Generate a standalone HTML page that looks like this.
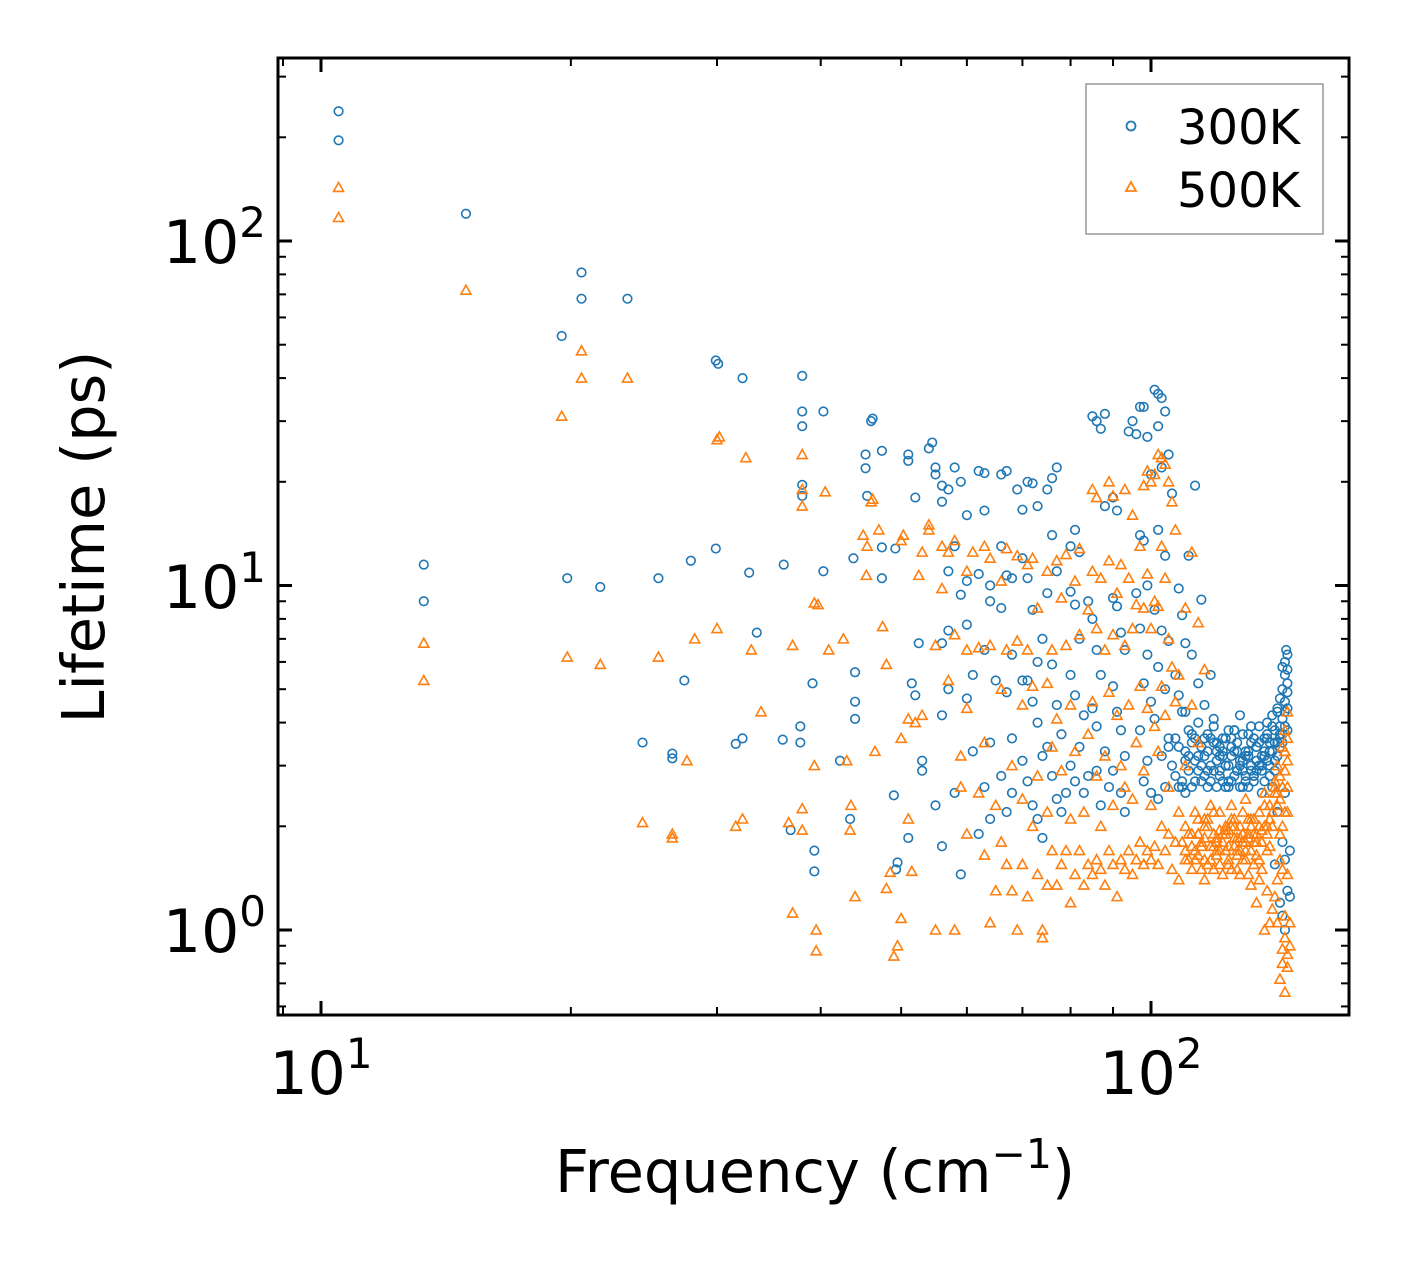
<!DOCTYPE html>
<html><head><meta charset="utf-8"><style>
body{margin:0;background:#fff}
svg{display:block;font-family:"DejaVu Sans","Liberation Sans",sans-serif}
</style></head><body>
<svg id="chart" width="1408" height="1265" xmlns="http://www.w3.org/2000/svg">
<rect width="1408" height="1265" fill="#fff"/>
<g id="marks"></g>
<g id="axes"></g>
<rect x="278" y="58" width="1071" height="957" fill="none" stroke="#000" stroke-width="3"/>
<text x="321" y="1094" font-size="60" text-anchor="middle">10<tspan font-size="42" dy="-26">1</tspan></text>
<text x="1151" y="1094" font-size="60" text-anchor="middle">10<tspan font-size="42" dy="-26">2</tspan></text>
<text x="266" y="263" font-size="60" text-anchor="end">10<tspan font-size="42" dy="-26">2</tspan></text>
<text x="266" y="608" font-size="60" text-anchor="end">10<tspan font-size="42" dy="-26">1</tspan></text>
<text x="266" y="952" font-size="60" text-anchor="end">10<tspan font-size="42" dy="-26">0</tspan></text>
<text x="815" y="1192" font-size="59" text-anchor="middle">Frequency (cm<tspan font-size="41" dy="-24">−1</tspan><tspan dy="24">)</tspan></text>
<text transform="translate(104,537) rotate(-90)" font-size="59" text-anchor="middle">Lifetime (ps)</text>
<g>
<rect x="1086" y="84" width="237" height="150" fill="#fff" stroke="#999" stroke-width="1.5"/>
<circle cx="1131" cy="126" r="4.5" fill="none" stroke="#1f77b4" stroke-width="1.8"/>
<text x="1177" y="144" font-size="48">300K</text>
<polygon points="1131,182 1136,191 1126,191" fill="none" stroke="#ff7f0e" stroke-width="1.8"/>
<text x="1177" y="207" font-size="48">500K</text>
</g>
</svg>
<script>
const blueFreq=[10.5,10.5,14.95,20.6,20.6,23.4,19.5,29.9,30.1,32.2,38,38,38,38,38,40.3,13.3,13.3,19.8,21.7,25.5,27.9,29.9,32.8,33.5,36.1,40.3,27.4,24.4,26.5,26.5,31.6,32.2,36,37.8,37.8,36.8,39.1,39.3,39.3,42.2,43.4,44,44,44,43.8,45.3,45.3,46,46.2,45.5,47.4,47.4,47.4,49.2,49,49.5,49.3,
51,51,52,51.5,52,52.5,51,53,53,54,54.5,55,55,56,56,57,58,58,57,56,57,56,57,55,56,58,59,60,60,59,60,61,60,61,59,62,63,63,62,64,64,63,65,64,63,64,62,66,67,66,67,68,66,68,67,68,66,67,68,69,70,71,72,73,70,71,72,73,70,71,72,73,74,70,71,72,73,74,75,76,77,76,77,75,74,76,77,78,75,76,77,78,79,80,81,82,80,81,82,80,81,83,82,80,81,83,84,85,86,87,88,84,85,86,87,85,86,88,86,87,89,88,90,91,90,91,92,93,90,91,92,93,90,92,93,94,95,96,97,98,99,100,97,98,99,96,97,99,98,100,97,99,98,100,101,102,103,104,102,103,105,102,104,101,103,105,102,104,101,105,103,102,104,106,108,109,110,107,108,110,111,113,112,115,114,116,118,117,119,
106,107,108,109,110,111,112,113,114,115,116,117,118,119,120,121,122,123,124,125,126,127,128,129,130,131,132,133,134,135,136,137,138,139,140,141,142,143,144,145,145,145.5,146,144,143,142,141,140,139,138,137,136,135,134,133,132,131,130,129,128,127,126,125,124,123,122,121,120,119,118,117,116,115,114,113,112,111,110,109,108,146,146,145,144,145,146,147,147,143,144,145,142,141,
121,123,125,127,129,131,133,135,137,139,141,143,120,122,124,126,128,130,132,134,136,138,140,142,144,145,146,146,145,144,143,
118,120,122,124,126,128,130,132,134,136,138,140,142,144,119,121,123,125,127,129,131,133,135,137,139,141,143,145,110,112,114,116,105,107,109,111,113,115,117,146];
const blueLife=[238,196,120,81,68,68,53,45,44,40,40.6,32,29,19.6,18.2,32,11.5,9.0,10.5,9.9,10.5,11.8,12.8,10.9,7.3,11.5,11.0,5.3,3.5,3.25,3.15,3.47,3.6,3.57,3.9,3.5,1.95,5.2,1.7,1.48,3.1,2.1,4.6,4.1,5.6,12,21.9,24,30,30.5,18.2,24.6,12.9,10.5,12.8,2.46,1.57,1.5,
24,23,18,5.2,4.8,6.8,1.85,2.9,3.1,25,26,21,22,19.5,17.5,19,22,13,11,6.8,7.4,4.2,5.0,2.3,1.75,2.5,20,16,10.3,9.4,7.7,5.5,4.7,3.3,1.45,21.5,21.2,16.5,10.8,10,9,6.5,5.3,3.5,2.6,2.1,1.9,21,21.5,13,10.7,10.5,8.6,6.3,4.9,3.6,2.8,2.2,2.5,19,16.6,20,19.8,17,12,10.5,8.5,6,5.3,5.3,4.6,4,3.2,3.1,2.7,2.3,2.1,1.85,19,20.5,22,14,11,9.5,7,5.9,4.5,3.7,3.4,2.8,2.4,2.2,2.5,13,14.5,12.5,9.6,8.8,7,5.5,4.8,4.2,3.4,3,2.7,2.5,2.8,31,30,28.5,31.5,9,8,6.5,5.5,4.4,3.9,3.3,2.9,2.3,2.6,17,18,16.5,9.2,8.7,7.3,6.5,5.1,4.3,3.8,3.2,2.9,2.5,2.2,28,30,27.5,33,33,27,21,14,13.5,10,9.5,7.5,6.3,5.2,4.6,3.8,3.1,2.7,2.5,37,36,35,32,29,22,24,14.5,12.2,8.5,7.4,6.9,5.8,5.0,4.1,3.6,3.2,2.4,2.6,18.5,9.8,8.2,6.8,5.5,4.8,4.3,12.2,19.5,6.3,9.1,5.2,4.5,5.5,3.7,4.1,
3.0,2.8,3.4,2.6,3.1,2.9,3.5,2.7,3.2,3.0,2.8,3.3,3.6,2.9,3.1,3.4,2.7,3.0,3.8,3.2,2.8,3.5,3.1,2.9,3.3,3.7,3.0,2.8,3.4,3.9,3.2,3.6,4.0,3.3,4.2,3.8,4.4,4.7,5.0,5.5,6.0,6.5,6.3,4.1,3.6,3.2,2.9,2.6,2.8,3.1,2.7,2.5,3.5,2.9,3.6,3.9,2.6,2.8,3.7,4.2,2.9,3.3,2.7,3.0,3.6,3.3,2.8,2.6,3.5,3.0,2.6,3.6,2.7,4.0,3.1,2.6,3.8,2.5,4.3,2.6,4.9,3.8,2.5,1.8,1.6,1.3,1.7,1.25,1.2,1.1,1.0,2.2,1.55,
3.2,3.0,3.4,2.9,3.1,3.3,2.8,3.0,3.2,3.5,3.1,3.4,3.3,3.6,2.7,3.8,2.6,3.2,2.9,3.4,3.0,3.7,3.9,4.3,5.8,4.6,5.2,4.4,3.9,3.5,3.7,
2.7,3.5,3.2,2.6,3.8,3.0,2.7,3.5,3.1,2.9,3.6,3.3,3.5,3.7,3.9,2.9,2.6,3.6,3.3,2.6,3.2,2.7,3.0,3.3,3.0,3.5,3.9,4.3,3.3,3.7,2.9,3.2,3.4,3.6,2.7,3.2,3.6,3.4,2.9,5.7];
const orangeFreq=[10.5,10.5,14.95,19.5,20.6,20.6,23.4,30,30.2,32.5,38,38,38,40.5,39.3,39.7,13.3,13.3,19.8,21.7,25.5,28.2,30,33,33.9,37,40.9,24.4,26.5,26.5,27.6,31.6,32.2,36.6,38,38,39.3,37,39.5,39.5,42.6,43,43.5,43.4,44,45,45.4,45.5,46,46.2,46.5,47,47.5,48,48,48.5,49,49.5,50,50.3,50,51,51,50,51.5,52,52.5,53,53,54,54,55,55,56,56,57,57,58,58,58,59,59,60,60,60,60,61,62,62,63,63,63,64,64,64,65,65,66,66,66,67,67,67,68,68,69,69,69,70,70,70,71,71,71,72,72,72,73,73,73,74,74,75,75,75,75,76,76,76,77,77,77,78,78,78,79,79,79,80,80,80,81,81,81,82,82,82,83,83,84,84,84,85,85,85,85,86,86,86,86,87,87,87,88,88,88,89,89,89,89,90,90,90,90,91,91,91,92,92,92,93,93,93,93,94,94,94,95,95,95,95,96,96,96,97,97,97,98,98,98,98,99,99,99,99,100,100,100,100,101,101,101,101,102,102,102,102,103,103,103,103,104,104,104,104,105,105,105,105,106,106,106,107,107,107,108,108,108,110,110,110,112,112,112,114,114,114,116,116,116,
109,110,111,112,113,114,115,116,117,118,119,120,121,122,123,124,125,126,127,128,129,130,131,132,133,134,135,136,137,138,139,140,141,142,143,144,145,145,146,146,144,143,142,141,140,139,138,137,136,135,134,133,132,131,130,129,128,127,126,125,124,123,122,121,120,119,118,117,116,115,114,113,145,145,146,146,147,144,143,145,147,146,144,142,
120,122,124,126,128,130,132,134,136,138,140,142,144,121,125,129,133,137,141,145,146,143,139,135,131,127,123,119,
110,112,114,116,118,120,122,124,126,128,130,132,134,136,138,140,142,144,111,113,115,117,119,121,123,125,127,129,131,133,135,137,139,141,143,145,146,145,144,146];
const orangeLife=[143,117,72,31,48,40,40,26.5,27,23.5,24,19,17,18.7,8.9,8.8,6.8,5.3,6.2,5.9,6.2,7.0,7.5,6.5,4.3,6.7,6.5,2.05,1.9,1.85,3.1,2.0,2.1,2.05,2.25,1.95,3.0,1.12,1.0,0.87,7,3.1,2.3,1.95,1.25,14,10.7,13,17.5,17.8,3.3,14.5,7.6,5.9,1.32,1.47,0.84,0.9,13.5,14,3.6,4.1,2.1,1.08,1.48,4.0,10.7,12.5,4.2,14.5,15,6.7,1.0,13,9.8,12.5,5.3,13.5,7.2,1.0,2.6,3.2,11,6.5,4.4,1.9,12.5,6.6,2.5,13,3.5,1.65,12,6.7,1.05,2.3,1.3,10.3,5,1.8,12.8,6.5,1.55,3.0,1.3,12.2,6.9,1.0,4.5,2.4,1.55,11.5,6.5,1.25,12,5.1,2.0,8.6,2.8,1.45,1.0,0.95,11,5.2,2.2,1.35,6.5,3.4,1.7,11.8,4.1,1.35,9.2,2.9,1.55,12.3,6.7,1.7,4.5,2.1,1.2,10.3,3.3,1.45,12.8,7.2,1.7,2.2,1.35,8.5,3.7,1.55,19,11,4.6,1.45,18,7.5,2.8,1.6,10.5,2.0,1.5,6.5,3.2,1.35,20,11.8,4.9,1.7,18.2,7.2,2.3,1.55,9.5,4.2,1.25,11.5,3.0,1.6,19,6.7,2.6,1.5,10.5,4.5,1.7,16,7.5,2.4,1.45,8.8,3.5,1.6,13,5.1,1.8,19.5,8.6,2.9,1.55,21.5,10.8,4.4,1.7,20,7.5,2.3,1.6,21,9,3.9,1.75,24,8.7,3.3,1.55,23.5,13,5.1,2.0,22.5,10.5,4.2,1.7,20,7.0,2.6,1.9,17.5,5.8,1.5,14.5,4.6,1.8,5.5,2.2,1.4,8.6,3.0,1.7,12.5,4.5,1.5,7.8,3.5,1.9,5.7,2.1,1.4,
1.8,2.0,1.6,1.9,1.7,2.1,1.8,1.6,2.0,1.75,1.9,1.65,2.2,1.8,1.7,1.95,2.3,1.75,1.85,2.0,1.6,2.4,1.9,1.7,2.1,1.8,2.2,1.95,2.5,1.7,2.3,2.0,2.7,3.0,2.4,3.4,2.9,3.8,4.3,3.1,2.0,1.6,1.4,1.25,1.15,1.05,1.3,1.0,1.5,1.4,1.2,1.55,1.35,1.45,1.6,2.2,1.45,1.5,2.1,1.5,1.6,2.0,1.45,1.55,1.85,1.5,2.3,1.55,1.85,1.5,1.65,2.2,1.1,0.95,0.85,0.78,0.9,0.8,0.72,0.66,1.05,1.45,0.88,1.05,
1.7,1.9,1.75,2.0,1.85,1.7,2.1,1.9,1.8,2.0,2.2,2.5,2.6,1.95,2.1,1.8,1.9,2.3,2.6,3.3,2.2,1.9,1.75,2.0,1.85,1.7,1.95,2.2,
1.6,1.75,1.9,2.0,1.6,1.8,1.9,1.55,1.85,1.7,1.8,2.0,1.65,1.8,1.9,2.2,2.3,2.6,1.9,1.6,1.75,2.1,1.75,1.7,1.9,2.0,1.65,1.9,2.1,1.8,1.6,2.0,2.1,2.5,2.8,3.3,3.6,2.2,1.5,2.6];
const xTicksMajor=[10,100];
const xTicksMinor=[9,20,30,40,50,60,70,80,90];
const yTicksMajor=[1,10,100];
const yTicksMinor=[0.6,0.7,0.8,0.9,2,3,4,5,6,7,8,9,20,30,40,50,60,70,80,90,200,300];
const NS="http://www.w3.org/2000/svg";
const X0=278,X1=1349,Y0=58,Y1=1015;
function xScale(f){return 321+830*(Math.log10(f)-1);}
function yScale(v){return 930-344.5*Math.log10(v);}
const marks=document.getElementById('marks');
const nB=Math.min(blueFreq.length,blueLife.length);
for(let i=0;i<nB;i++){
  const c=document.createElementNS(NS,'circle');
  c.setAttribute('cx',xScale(blueFreq[i]));c.setAttribute('cy',yScale(blueLife[i]));
  c.setAttribute('r',4.3);c.setAttribute('fill','none');c.setAttribute('stroke','#1f77b4');c.setAttribute('stroke-width',1.6);
  
  
  marks.appendChild(c);
}
const nO=Math.min(orangeFreq.length,orangeLife.length);
for(let i=0;i<nO;i++){
  const x=xScale(orangeFreq[i]),y=yScale(orangeLife[i]);
  const p=document.createElementNS(NS,'polygon');
  p.setAttribute('points',`${x},${y-5} ${x+5},${y+4} ${x-5},${y+4}`);
  p.setAttribute('fill','none');p.setAttribute('stroke','#ff7f0e');p.setAttribute('stroke-width',1.6);
  
  
  marks.appendChild(p);
}
const axes=document.getElementById('axes');
function line(x1,y1,x2,y2,name){
  const l=document.createElementNS(NS,'line');
  l.setAttribute('x1',x1);l.setAttribute('y1',y1);l.setAttribute('x2',x2);l.setAttribute('y2',y2);
  l.setAttribute('stroke','#000');l.setAttribute('stroke-width',name.indexOf('minor')>=0?2:3);
  
  
  axes.appendChild(l);
}
xTicksMajor.forEach(t=>{const x=xScale(t);line(x,Y1,x,Y1-14,'x-major-tick');line(x,Y0,x,Y0+14,'x-major-tick-top');});
xTicksMinor.forEach(t=>{const x=xScale(t);if(x<X0||x>X1)return;line(x,Y1,x,Y1-8,'x-minor-tick');line(x,Y0,x,Y0+8,'x-minor-tick-top');});
yTicksMajor.forEach(t=>{const y=yScale(t);line(X0,y,X0+14,y,'y-major-tick');line(X1,y,X1-14,y,'y-major-tick-right');});
yTicksMinor.forEach(t=>{const y=yScale(t);if(y<Y0||y>Y1)return;line(X0,y,X0+8,y,'y-minor-tick');line(X1,y,X1-8,y,'y-minor-tick-right');});
</script>
</body></html>
